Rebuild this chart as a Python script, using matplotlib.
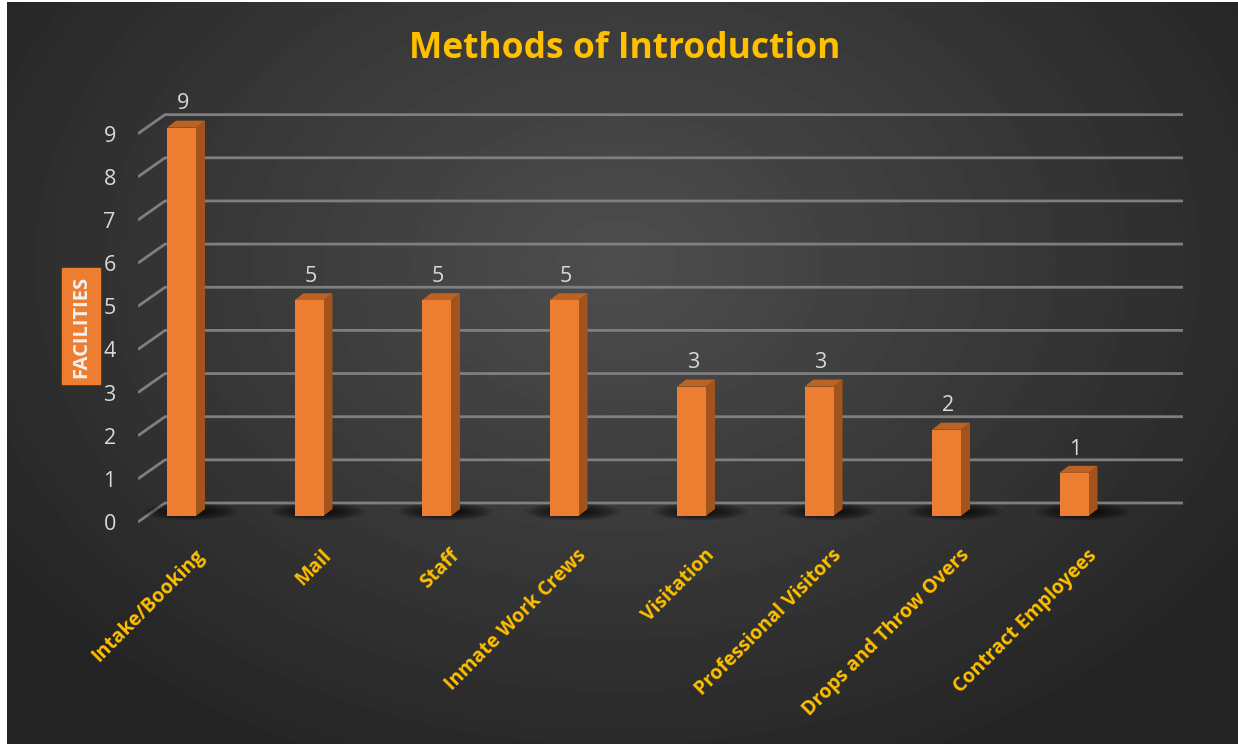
import numpy as np
import matplotlib.pyplot as plt
from matplotlib.patches import Polygon, Ellipse, Rectangle

# chart data
categories = ["Intake/Booking", "Mail", "Staff", "Inmate Work Crews", "Visitation",
              "Professional Visitors", "Drops and Throw Overs", "Contract Employees"]
facilities = [9, 5, 5, 5, 3, 3, 2, 1]
y_ticks = list(range(0, 10))

W, H = 1238, 744
FONT = "Open Sans"
ORANGE = "#ED7D31"
SIDE = "#A3531C"
TOP = "#BC6225"
GOLD = "#FFC000"
LIGHT = "#D9D9D9"
GRID = "#7F7F7F"

fig = plt.figure(figsize=(W / 100, H / 100), dpi=100, facecolor="white")

# dark radial gradient background (white strip on left/top like the original)
bg = fig.add_axes([7 / W, 0, 1 - 7 / W, 742 / H])
yy, xx = np.mgrid[0:742, 0:1231]
r = np.sqrt(((xx - 610) / 760) ** 2 + ((yy - 260) / 560) ** 2)
shade = np.clip(0x4e - (0x4e - 0x24) * r, 0x24, 0x4e) / 255
bg.imshow(shade, cmap="gray", vmin=0, vmax=1, aspect="auto")
bg.axis("off")

# main axes laid out in pixel terms
px_x, x0_px = 127.5, 181.5      # px per category, centre of first bar
px_y, y0_px = 43.15, 516.0      # px per unit, bar baseline
left_px, right_px = 138, 1190
ylo, yhi = -0.6, 10.3
bot_px = y0_px - ylo * px_y
top_px = y0_px - yhi * px_y
ax = fig.add_axes([left_px / W, (H - bot_px) / H, (right_px - left_px) / W, (bot_px - top_px) / H])
ax.set_xlim((left_px - x0_px) / px_x, (right_px - x0_px) / px_x)
ax.set_ylim(ylo, yhi)
ax.patch.set_alpha(0)
for s in ax.spines.values():
    s.set_visible(False)

# slanted gridlines (front edge -> back wall)
front_dy = -6 / px_y
wall_dx, wall_dy = 27 / px_x, 19 / px_y
xl = ax.get_xlim()[0]
xr = (1183 - x0_px) / px_x
for v in y_ticks:
    yf = v + front_dy
    ax.plot([xl, xl + wall_dx, xr], [yf, yf + wall_dy, yf + wall_dy],
            color=GRID, lw=2, zorder=1, solid_capstyle="butt")

ax.set_yticks([v + front_dy for v in y_ticks])
ax.set_yticklabels([str(v) for v in y_ticks], fontsize=15.5, color=LIGHT, family=FONT)
ax.tick_params(axis="y", length=0, pad=16)
ax.set_xticks([])

# bars with 3d sides
x = np.arange(len(categories))
bw = 29 / px_x
dx, dy = 9 / px_x, 7 / px_y

for i, v in zip(x, facilities):
    # soft floor shadow
    for k in range(9):
        f = 1 - k * 0.09
        ax.add_patch(Ellipse((i + 0.07, 0.1), 0.74 * f, 0.40 * f,
                             color="black", alpha=0.11, lw=0, zorder=2))

ax.bar(x, facilities, width=bw, color=ORANGE, zorder=4)
for i, v in zip(x, facilities):
    ax.add_patch(Polygon([(i + bw / 2, 0), (i + bw / 2 + dx, dy),
                          (i + bw / 2 + dx, v + dy), (i + bw / 2, v)],
                         closed=True, color=SIDE, lw=0, zorder=3))
    ax.add_patch(Polygon([(i - bw / 2, v), (i + bw / 2, v),
                          (i + bw / 2 + dx, v + dy), (i - bw / 2 + dx, v + dy)],
                         closed=True, color=TOP, lw=0, zorder=3))
    ax.text(i + 0.01, v + 0.55, str(v), ha="center", va="center",
            fontsize=15.5, color=LIGHT, family=FONT, zorder=5)
    ax.text(i + 0.10, -0.68, categories[i], rotation=45, rotation_mode="anchor",
            ha="right", va="top", fontsize=14, fontweight="bold", color=GOLD,
            family=FONT, clip_on=False)

# title and y label box
fig.text(625 / W, 1 - 49 / H, "Methods of Introduction", ha="center", va="center",
         fontsize=25.5, fontweight="bold", color=GOLD, family=FONT)
fig.patches.append(Rectangle((62 / W, 1 - 384 / H), 38 / W, 116 / H,
                             transform=fig.transFigure, color=ORANGE, zorder=3))
fig.text(81 / W, 1 - 327 / H, "FACILITIES", rotation=90, ha="center", va="center",
         fontsize=14.5, fontweight="bold", color="#F2F2F2", family=FONT, zorder=4)

fig.savefig("out.png", dpi=100, facecolor=fig.get_facecolor())
